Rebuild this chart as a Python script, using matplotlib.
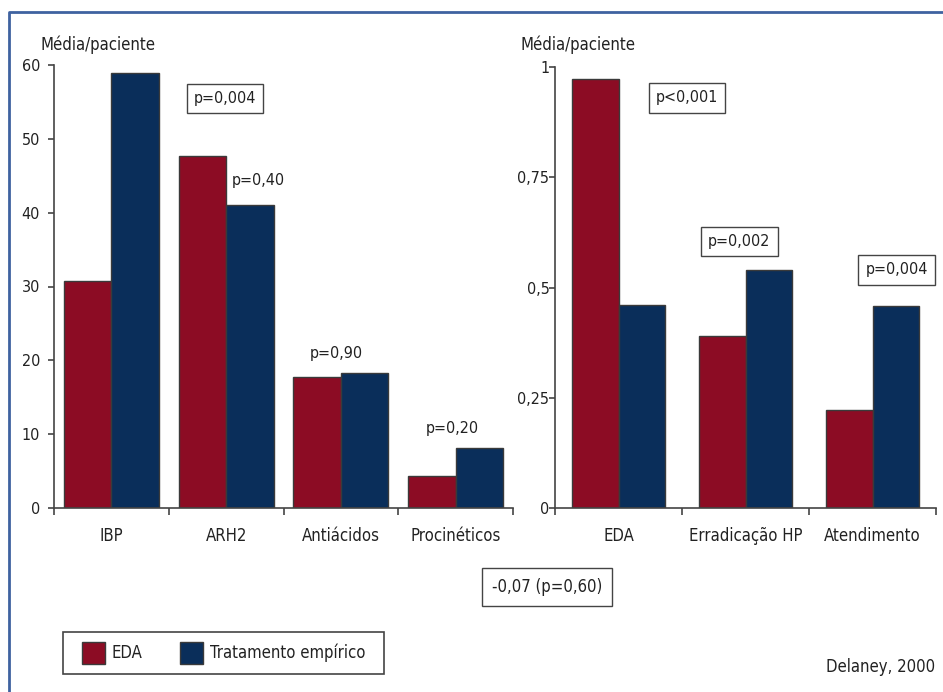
import matplotlib
matplotlib.use('Agg')

import numpy as np
import matplotlib.pyplot as plt
from matplotlib.lines import Line2D
from matplotlib.patches import Patch, Rectangle

plt.rcParams['font.family'] = ['DejaVu Sans']
plt.rcParams['font.stretch'] = 'condensed'

# Medications per patient
med_labels = ['IBP', 'ARH2', 'Antiácidos', 'Procinéticos']
med_eda = [30.8, 47.7, 17.7, 4.3]
med_emp = [58.9, 41.1, 18.3, 8.1]
med_pvals = ['p=0,004', 'p=0,40', 'p=0,90', 'p=0,20']

# Procedures / visits per patient
proc_labels = ['EDA', 'Erradicação HP', 'Atendimento']
proc_eda = [0.973, 0.39, 0.222]
proc_emp = [0.46, 0.54, 0.458]
proc_pvals = ['p<0,001', 'p=0,002', 'p=0,004']

RED = '#8C0C24'
NAVY = '#0A2E5A'
EDGE = '#3a3a3a'
TEXT = '#222222'

W, H = 943, 692
fig = plt.figure(figsize=(W / 100, H / 100), dpi=100)


def fx(px):
    return px / W


def fy(py):
    return 1 - py / H


def style_axes(ax, labels):
    n = len(labels)
    ax.set_xlim(-0.5, n - 0.5)
    for side in ('top', 'right'):
        ax.spines[side].set_visible(False)
    for side in ('left', 'bottom'):
        ax.spines[side].set_color('#444444')
        ax.spines[side].set_linewidth(1.2)
    ax.set_xticks(np.arange(n))
    ax.set_xticklabels(labels, fontsize=12, color=TEXT)
    ax.tick_params(axis='x', which='major', length=0, pad=14)
    ax.set_xticks(np.arange(n + 1) - 0.5, minor=True)
    ax.tick_params(axis='x', which='minor', length=5, width=1.2, color='#444444')
    ax.tick_params(axis='y', length=4, width=1.2, color='#444444',
                   labelsize=11.5, labelcolor=TEXT)


def draw_bars(ax, eda, emp, width):
    x = np.arange(len(eda))
    ax.bar(x - width / 2, eda, width, color=RED, edgecolor=EDGE, linewidth=1)
    ax.bar(x + width / 2, emp, width, color=NAVY, edgecolor=EDGE, linewidth=1)


def ptext(ax, x, y, s, boxed):
    kw = dict(ha='center', va='center', fontsize=11.5, color=TEXT, clip_on=False)
    if boxed:
        kw['bbox'] = dict(boxstyle='square,pad=0.45', fc='white', ec='#444444', lw=1)
    ax.text(x, y, s, **kw)


# left panel: medications
ax1 = fig.add_axes([fx(54), fy(508), fx(459), 443 / H])
draw_bars(ax1, med_eda, med_emp, 0.415)
style_axes(ax1, med_labels)
ax1.set_ylim(0, 60)
ax1.set_yticks([0, 10, 20, 30, 40, 50, 60])
ax1.tick_params(axis='y', pad=6)
ptext(ax1, 0.99, 55.5, med_pvals[0], True)
ptext(ax1, 1.28, 44.4, med_pvals[1], False)
ptext(ax1, 1.96, 20.9, med_pvals[2], False)
ptext(ax1, 2.97, 10.8, med_pvals[3], False)

# right panel: procedures
ax2 = fig.add_axes([fx(555), fy(508), fx(381), 441 / H])
draw_bars(ax2, proc_eda, proc_emp, 0.37)
style_axes(ax2, proc_labels)
ax2.set_ylim(0, 1)
ax2.set_yticks([0, 0.25, 0.5, 0.75, 1])
ax2.set_yticklabels(['0', '0,25', '0,5', '0,75', '1'])
ax2.tick_params(axis='y', pad=0)
ptext(ax2, 0.54, 0.93, proc_pvals[0], True)
ptext(ax2, 0.95, 0.605, proc_pvals[1], True)
ptext(ax2, 2.19, 0.54, proc_pvals[2], True)

# axis titles above each panel
fig.text(fx(40), fy(45), 'Média/paciente', ha='left', va='center',
         fontsize=12, color=TEXT)
fig.text(fx(521), fy(45), 'Média/paciente', ha='left', va='center',
         fontsize=12, color=TEXT)

# overall difference note
fig.text(fx(547), fy(587), '-0,07 (p=0,60)', ha='center', va='center',
         fontsize=12, color=TEXT,
         bbox=dict(boxstyle='square,pad=0.6', fc='white', ec='#444444', lw=1))

fig.text(fx(935), fy(667), 'Delaney, 2000', ha='right', va='center',
         fontsize=12, color=TEXT)

# legend with its own frame box
fig.add_artist(Rectangle((fx(63), fy(674)), fx(321), 42 / H,
                         transform=fig.transFigure, fill=False,
                         ec='#444444', lw=1.2))
handles = [Patch(facecolor=RED, edgecolor=EDGE, label='EDA'),
           Patch(facecolor=NAVY, edgecolor=EDGE, label='Tratamento empírico')]
leg = fig.legend(handles=handles, loc='center', ncol=2,
                 bbox_to_anchor=(fx(223.5), fy(653)), fontsize=12,
                 frameon=False, handlelength=1.4, handleheight=1.6,
                 columnspacing=2.2, handletextpad=0.4, borderpad=0)
for t in leg.get_texts():
    t.set_color(TEXT)

# blue page frame along the top and left edges
fig.add_artist(Line2D([fx(8.5), fx(8.5), 1.0], [0.0, fy(11.5), fy(11.5)],
                      transform=fig.transFigure, color='#3F62A0', lw=2))

fig.savefig('out.png', dpi=100)
